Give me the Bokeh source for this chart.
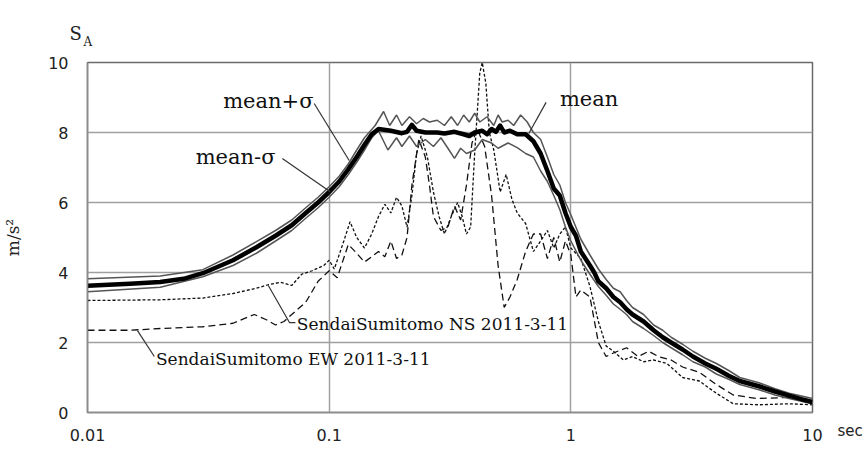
from bokeh.plotting import figure
from bokeh.models import FixedTicker, CustomJSTickFormatter, Label, Range1d, Title
from bokeh.embed import file_html
from bokeh.resources import INLINE

# ---------------- data (period in sec, SA in m/s^2) ----------------
mean_T = [0.01, 0.015, 0.02, 0.025, 0.03, 0.04, 0.05, 0.06, 0.07, 0.08, 0.09, 0.1, 0.11, 0.12,
          0.13, 0.14, 0.15, 0.16, 0.18, 0.2, 0.21, 0.22, 0.23, 0.25, 0.28, 0.3, 0.33, 0.36, 0.38,
          0.4, 0.43, 0.45, 0.47, 0.49, 0.51, 0.53, 0.56, 0.6, 0.65, 0.7, 0.75, 0.8, 0.85, 0.9,
          0.95, 1.0, 1.05, 1.1, 1.2, 1.25, 1.3, 1.4, 1.5, 1.6, 1.7, 1.8, 2.0, 2.2, 2.4, 2.6,
          2.9, 3.2, 3.6, 4.0, 4.5, 5.0, 6.0, 7.0, 8.0, 9.0, 10.0]
mean_SA = [3.62, 3.68, 3.73, 3.82, 3.98, 4.35, 4.72, 5.05, 5.35, 5.7, 6.0, 6.3, 6.6, 6.95,
           7.3, 7.65, 7.95, 8.1, 8.05, 7.98, 8.02, 8.22, 8.05, 8.0, 8.0, 7.97, 8.02, 7.95, 7.9,
           8.0, 8.05, 7.95, 8.1, 8.02, 8.2, 8.0, 8.05, 7.95, 7.95, 7.75, 7.4, 6.9, 6.4, 6.2,
           5.7, 5.3, 5.05, 4.6, 4.2, 4.0, 3.75, 3.55, 3.3, 3.15, 2.95, 2.8, 2.6, 2.35, 2.15, 2.0,
           1.8, 1.6, 1.4, 1.25, 1.05, 0.9, 0.75, 0.6, 0.48, 0.38, 0.3]

plus_T = [0.01, 0.02, 0.03, 0.04, 0.05, 0.06, 0.07, 0.08, 0.09, 0.1, 0.11, 0.12, 0.13, 0.14,
          0.155, 0.168, 0.178, 0.19, 0.2, 0.215, 0.23, 0.245, 0.26, 0.28, 0.3, 0.32, 0.34,
          0.36, 0.38, 0.4, 0.42, 0.45, 0.48, 0.5, 0.52, 0.55, 0.58, 0.62, 0.66, 0.7, 0.75,
          0.8, 0.85, 0.9, 0.95, 1.0, 1.1, 1.2, 1.3, 1.4, 1.5, 1.6, 1.7, 1.8, 2.0, 2.2, 2.4,
          2.6, 2.9, 3.2, 3.6, 4.0, 4.5, 5.0, 6.0, 7.0, 8.0, 10.0]
plus_SA = [3.82, 3.9, 4.08, 4.5, 4.88, 5.2, 5.5, 5.85, 6.15, 6.45, 6.75, 7.1, 7.5, 7.85,
           8.2, 8.6, 8.2, 8.5, 8.2, 8.45, 8.25, 8.4, 8.3, 8.35, 8.2, 8.45, 8.2,
           8.5, 8.3, 8.55, 8.3, 8.45, 8.2, 8.5, 8.3, 8.35, 8.2, 8.5, 8.3, 8.0, 7.8,
           7.3, 6.8, 6.5, 6.0, 5.65, 4.95, 4.5, 4.1, 3.8, 3.55, 3.45, 3.2, 3.0, 2.8, 2.5, 2.35,
           2.15, 1.95, 1.75, 1.55, 1.4, 1.2, 1.0, 0.85, 0.68, 0.55, 0.4]

minus_T = [0.01, 0.02, 0.03, 0.04, 0.05, 0.06, 0.07, 0.08, 0.09, 0.1, 0.11, 0.12, 0.13, 0.14,
           0.15, 0.16, 0.175, 0.19, 0.2, 0.215, 0.23, 0.25, 0.27, 0.29, 0.31, 0.33, 0.35,
           0.37, 0.4, 0.43, 0.47, 0.5, 0.55, 0.6, 0.65, 0.7, 0.75, 0.8, 0.85, 0.9, 0.95, 1.0,
           1.1, 1.2, 1.3, 1.4, 1.5, 1.6, 1.7, 1.8, 2.0, 2.2, 2.4, 2.6, 2.9, 3.2, 3.6, 4.0,
           4.5, 5.0, 6.0, 7.0, 8.0, 10.0]
minus_SA = [3.45, 3.58, 3.88, 4.2, 4.55, 4.9, 5.2, 5.55, 5.85, 6.15, 6.45, 6.8, 7.15, 7.5,
            7.85, 8.05, 7.5, 7.85, 7.6, 7.9, 7.6, 7.8, 7.6, 7.85, 7.55, 7.26, 7.55,
            7.4, 7.5, 7.8, 7.7, 7.55, 7.7, 7.57, 7.4, 7.3, 6.9, 6.6, 6.2, 5.8, 5.3, 4.9,
            4.35, 3.95, 3.6, 3.35, 3.1, 2.95, 2.8, 2.6, 2.4, 2.2, 2.0, 1.85, 1.65, 1.45, 1.3, 1.1,
            0.95, 0.8, 0.65, 0.5, 0.4, 0.25]

ns_T = [0.01, 0.02, 0.03, 0.04, 0.05, 0.056, 0.063, 0.07, 0.077, 0.085, 0.095, 0.1, 0.105,
        0.115, 0.122, 0.13, 0.14, 0.15, 0.16, 0.17, 0.18, 0.19, 0.2, 0.21, 0.22, 0.23, 0.24,
        0.255, 0.27, 0.285, 0.3, 0.32, 0.34, 0.355, 0.37, 0.385, 0.4, 0.42, 0.43, 0.445, 0.46,
        0.48, 0.51, 0.54, 0.57, 0.6, 0.65, 0.7, 0.75, 0.8, 0.85, 0.9, 0.95, 1.0, 1.1, 1.2,
        1.3, 1.4, 1.5, 1.65, 1.8, 2.0, 2.2, 2.5, 2.9, 3.4, 4.0, 4.7, 6.0, 8.0, 10.0]
ns_SA = [3.2, 3.22, 3.27, 3.4, 3.55, 3.65, 3.72, 3.63, 3.95, 4.05, 4.2, 4.35, 4.1,
         4.9, 5.45, 5.0, 4.7, 5.1, 5.6, 5.95, 5.7, 6.15, 5.9, 5.3, 6.2, 7.4, 7.9,
         7.3, 6.3, 5.6, 5.1, 5.6, 6.0, 5.6, 5.1, 5.3, 7.4, 9.7, 10.0, 9.4, 8.0,
         7.5, 6.3, 6.8, 6.1, 5.7, 5.4, 4.6, 4.9, 5.2, 4.7, 5.1, 5.3, 4.7, 4.4, 3.6,
         2.6, 1.9, 1.75, 1.5, 1.6, 1.45, 1.5, 1.4, 1.0, 0.9, 0.55, 0.25, 0.22, 0.25, 0.22]

ew_T = [0.01, 0.015, 0.02, 0.03, 0.04, 0.049, 0.055, 0.06, 0.065, 0.07, 0.08, 0.09, 0.1,
        0.108, 0.12, 0.13, 0.14, 0.15, 0.16, 0.17, 0.18, 0.19, 0.2, 0.21, 0.22, 0.235, 0.25,
        0.26, 0.27, 0.29, 0.31, 0.33, 0.35, 0.37, 0.39, 0.41, 0.44, 0.47, 0.5, 0.53, 0.56,
        0.6, 0.65, 0.7, 0.75, 0.8, 0.85, 0.9, 0.95, 1.0, 1.05, 1.1, 1.2, 1.3, 1.4, 1.5, 1.7,
        1.9, 2.1, 2.3, 2.6, 2.9, 3.4, 4.0, 4.7, 5.9, 8.0, 10.0]
ew_SA = [2.35, 2.35, 2.4, 2.45, 2.55, 2.8, 2.65, 2.5, 2.6, 2.8, 3.15, 3.75, 4.05,
         3.85, 4.8, 4.55, 4.3, 4.45, 4.6, 4.45, 4.9, 4.4, 4.5, 5.0, 6.5, 7.8, 7.3,
         6.5, 5.6, 5.2, 5.3, 5.9, 5.5, 6.5, 7.7, 8.1, 7.6, 6.2, 4.2, 3.0, 3.3,
         3.8, 4.6, 5.1, 5.1, 4.4, 5.0, 4.3, 4.9, 4.5, 3.3, 3.5, 3.3, 2.0, 1.6, 1.7, 1.85,
         1.6, 1.75, 1.6, 1.5, 1.3, 1.15, 0.8, 0.5, 0.4, 0.43, 0.3]

x_ticks = [0.01, 0.1, 1, 10]
x_tick_labels = ["0.01", "0.1", "1", "10"]
y_ticks = [0, 2, 4, 6, 8, 10]

# annotation texts and anchor points (data units)
ann_texts = ["mean+\u03c3", "mean-\u03c3", "mean"]
ann_pos = [(0.056, 8.91), (0.041, 7.29), (1.19, 8.97)]
ann_leaders = [([0.0867, 0.121], [8.83, 7.2]),
               ([0.064, 0.101], [7.26, 6.31]),
               ([0.79, 0.67], [8.86, 7.97])]
rec_texts = ["SendaiSumitomo NS 2011-3-11", "SendaiSumitomo EW 2011-3-11"]
rec_pos = [(0.0735, 2.54), (0.0192, 1.54)]
rec_leaders = [([0.056, 0.0685, 0.0725], [3.63, 2.57, 2.57]),
               ([0.0161, 0.0189], [2.34, 1.6])]

SERIF = "DejaVu Serif"
SANS = "DejaVu Sans"

p = figure(width=865, height=474, x_axis_type="log",
           x_range=Range1d(0.01, 10), y_range=Range1d(0, 10),
           output_backend="svg", toolbar_location=None,
           min_border_left=86, min_border_right=53, min_border_top=62, min_border_bottom=62,
           background_fill_color="white", border_fill_color="white")

p.outline_line_color = "#6a6a6a"
p.outline_line_width = 1.5

# axes
p.xaxis.ticker = FixedTicker(ticks=x_ticks)
p.xaxis.formatter = CustomJSTickFormatter(
    args=dict(vals=x_ticks, labs=x_tick_labels),
    code="""
    for (let i = 0; i < vals.length; i++) {
        if (Math.abs(Math.log10(tick) - Math.log10(vals[i])) < 1e-6) return labs[i];
    }
    return '';
    """)
p.yaxis.ticker = FixedTicker(ticks=y_ticks)
for ax in (p.xaxis[0], p.yaxis[0]):
    ax.axis_line_color = "#8c8c8c"
    ax.axis_line_width = 1.5
    ax.major_tick_line_color = None
    ax.minor_tick_line_color = None
    ax.major_tick_out = 0
    ax.major_tick_in = 0
    ax.minor_tick_out = 0
    ax.minor_tick_in = 0
    ax.major_label_text_font = SANS
    ax.major_label_text_font_size = "16px"
    ax.major_label_text_color = "#222222"

p.xaxis.major_label_standoff = 16
p.yaxis.major_label_standoff = 19
p.yaxis.axis_label = "m/s\u00b2"
p.yaxis.axis_label_text_font = SERIF
p.yaxis.axis_label_text_font_size = "17px"
p.yaxis.axis_label_text_font_style = "normal"
p.yaxis.axis_label_text_color = "#222222"
p.yaxis.axis_label_standoff = 22

# grid
p.xgrid.ticker = FixedTicker(ticks=[0.1, 1])
p.ygrid.ticker = FixedTicker(ticks=[2, 4, 6, 8])
for g in (p.xgrid[0], p.ygrid[0]):
    g.grid_line_color = "#a0a0a0"
    g.grid_line_width = 1.5

# records
p.line(ew_T, ew_SA, line_color="#111111", line_width=1.3, line_dash="7 4")
p.line(ns_T, ns_SA, line_color="#111111", line_width=1.3, line_dash="3 2")

# statistics
p.line(plus_T, plus_SA, line_color="#555555", line_width=1.5)
p.line(minus_T, minus_SA, line_color="#555555", line_width=1.5)
p.line(mean_T, mean_SA, line_color="#000000", line_width=4.5, line_join="round")

# annotations
for (xs, ys) in ann_leaders + rec_leaders:
    p.line(xs, ys, line_color="#333333", line_width=1.2)

for txt, (x, y) in zip(ann_texts, ann_pos):
    p.add_layout(Label(x=x, y=y, text=txt, text_font=SERIF, text_font_size="21px",
                       text_align="center", text_baseline="middle", text_color="#111111"))
for txt, (x, y) in zip(rec_texts, rec_pos):
    p.add_layout(Label(x=x, y=y, text=txt, text_font=SERIF, text_font_size="17px",
                       text_align="left", text_baseline="middle", text_color="#111111"))

# S_A (above the frame) and "sec" (below, at the right) as titles
p.title.text = ""
p.add_layout(Title(text="A", align="left", offset=-4, standoff=28,
                   text_font=SERIF, text_font_size="12px", text_font_style="normal",
                   text_color="#222222"), "above")
p.add_layout(Title(text="S", align="left", offset=-18, standoff=-50,
                   text_font=SERIF, text_font_size="18px", text_font_style="normal",
                   text_color="#222222"), "above")
p.add_layout(Title(text="sec", align="left", offset=750, standoff=-44, vertical_align="top",
                   text_font=SANS, text_font_size="15px", text_font_style="normal",
                   text_color="#222222"), "below")

open("out.html", "w").write(file_html(p, INLINE))
